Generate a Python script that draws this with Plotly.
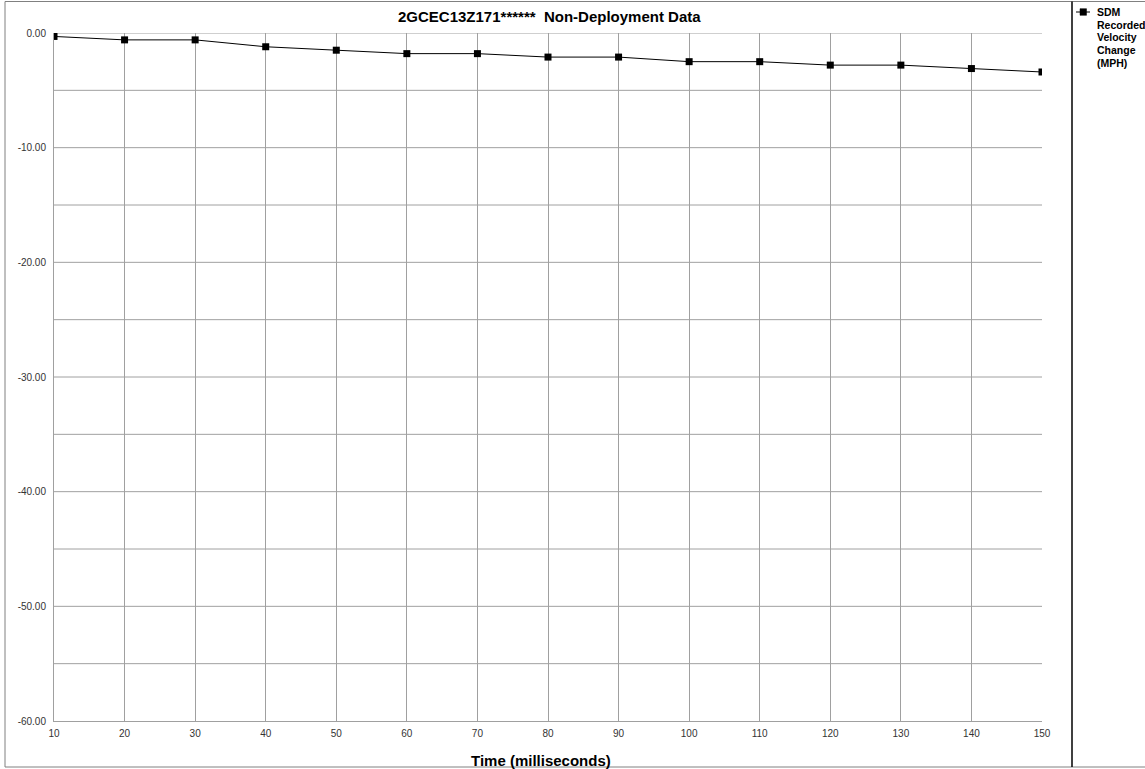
import plotly.graph_objects as go

time_ms = [10, 20, 30, 40, 50, 60, 70, 80, 90, 100, 110, 120, 130, 140, 150]
velocity_mph = [-0.3, -0.6, -0.6, -1.2, -1.5, -1.8, -1.8, -2.1, -2.1, -2.5, -2.5, -2.8, -2.8, -3.1, -3.4]
y_tick_vals = [0, -10, -20, -30, -40, -50, -60]
y_tick_text = ["0.00", "-10.00", "-20.00", "-30.00", "-40.00", "-50.00", "-60.00"]
x_tick_vals = list(range(10, 151, 10))
legend_lines = ["SDM", "Recorded", "Velocity", "Change", "(MPH)"]

W, H = 1145, 769
L, R, T, B = 54, 103, 33, 48
pw = W - L - R
ph = H - T - B
FONT = "Liberation Sans, Arial"

def px(x):
    return (x - L) / pw

def py(y):
    return (H - B - y) / ph

fig = go.Figure()
fig.add_trace(go.Scatter(
    x=time_ms, y=velocity_mph, mode="lines+markers",
    name="SDM Recorded Velocity Change (MPH)",
    line=dict(color="black", width=1),
    marker=dict(symbol="square", size=7, color="black"),
    showlegend=False,
))

fig.update_layout(
    width=W, height=H,
    margin=dict(l=L, r=R, t=T, b=B, autoexpand=False),
    paper_bgcolor="white", plot_bgcolor="white",
    font=dict(family=FONT, size=10, color="#333"),
    showlegend=False,
    xaxis=dict(range=[10, 150], tickvals=x_tick_vals, showgrid=True,
               gridcolor="#a0a0a0", gridwidth=1, zeroline=False,
               showline=True, linecolor="#a0a0a0", linewidth=1,
               ticks="", automargin=False, ticklabelstandoff=3,
               tickfont=dict(size=10, color="#333")),
    yaxis=dict(range=[-60, 0], tickvals=y_tick_vals, ticktext=y_tick_text,
               showgrid=False, zeroline=False, automargin=False,
               showline=True, linecolor="#a0a0a0", linewidth=1,
               ticks="", ticklabelstandoff=5,
               tickfont=dict(size=10, color="#333")),
)

# title and x-axis title
fig.add_annotation(xref="paper", yref="paper", x=px(549), y=py(17),
                   xanchor="center", yanchor="middle", showarrow=False,
                   text="<b>2GCEC13Z171******  Non-Deployment Data</b>",
                   font=dict(size=15, color="black", family=FONT))
fig.add_annotation(xref="paper", yref="paper", x=px(541), y=py(760),
                   xanchor="center", yanchor="middle", showarrow=False,
                   text="<b>Time (milliseconds)</b>",
                   font=dict(size=15, color="black", family=FONT))

# y grid lines every 5 units
for v in range(-55, 1, 5):
    fig.add_shape(type="line", xref="paper", yref="y", x0=0, x1=1, y0=v, y1=v,
                  line=dict(color="#a0a0a0", width=1), layer="below")

# outer frame and legend separator
fig.add_shape(type="rect", xref="paper", yref="paper",
              x0=px(5), x1=px(1147), y0=py(767), y1=py(1.5),
              line=dict(color="#808080", width=1))
fig.add_shape(type="line", xref="paper", yref="paper",
              x0=px(1072), x1=px(1072), y0=py(767), y1=py(1.5),
              line=dict(color="black", width=1.5))

# legend (manual)
fig.add_shape(type="line", xref="paper", yref="paper",
              x0=px(1076), x1=px(1090), y0=py(12), y1=py(12),
              line=dict(color="black", width=1))
fig.add_shape(type="rect", xref="paper", yref="paper",
              x0=px(1080), x1=px(1086.5), y0=py(15.3), y1=py(8.7),
              line=dict(color="black", width=0.5), fillcolor="black")
for i, txt in enumerate(legend_lines):
    fig.add_annotation(xref="paper", yref="paper", x=px(1095), y=py(12 + i * 12.7),
                       xanchor="left", yanchor="middle", showarrow=False,
                       text="<b>" + txt + "</b>",
                       font=dict(size=10.5, color="black", family=FONT))

fig.write_html("out.html", config={"displayModeBar": False},
               post_script="document.body.style.margin='0';")
